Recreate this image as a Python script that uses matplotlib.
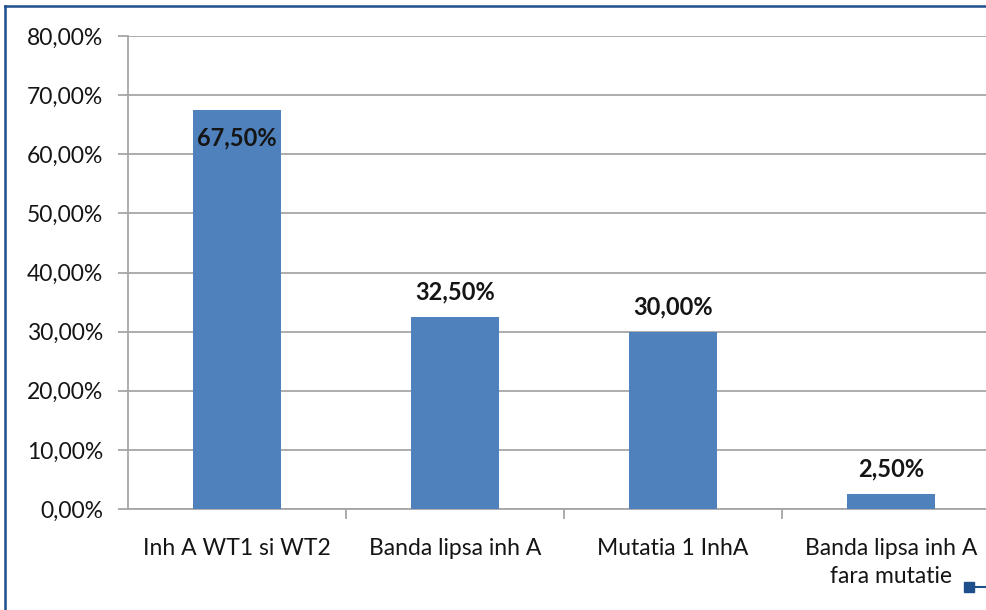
import matplotlib.pyplot as plt
from matplotlib.lines import Line2D
from matplotlib.ticker import FuncFormatter

categories = ['Inh A WT1 si WT2', 'Banda lipsa inh A', 'Mutatia 1 InhA', 'Banda lipsa inh A\nfara mutatie']
values = [67.50, 32.50, 30.00, 2.50]
yticks = [0, 10, 20, 30, 40, 50, 60, 70, 80]

plt.rcParams['font.family'] = ['Lato', 'DejaVu Sans']

W, H = 987, 610
fig = plt.figure(figsize=(W / 100, H / 100), dpi=100)
ax = fig.add_axes([128 / W, 101 / H, 872 / W, 473 / H])

x = list(range(len(categories)))
ax.bar(x, values, width=0.4, color='#4F81BD', zorder=3)

ax.set_xlim(-0.5, len(categories) - 0.5)
ax.set_ylim(0, 80)
ax.set_yticks(yticks)
ax.yaxis.set_major_formatter(FuncFormatter(lambda v, p: f'{v:.2f}%'.replace('.', ',')))
ax.grid(axis='y', color='#A6A6A6', linewidth=1.3, zorder=0)

ax.set_xticks(x)
ax.set_xticklabels(categories, fontsize=16.5, color='#151515', linespacing=1.4)
ax.set_xticks([i + 0.5 for i in x[:-1]], minor=True)
ax.tick_params(axis='x', which='major', length=0, pad=21)
ax.tick_params(axis='x', which='minor', length=7, color='#A6A6A6', width=1.3)
ax.tick_params(axis='y', length=7, color='#A6A6A6', width=1.3, pad=11,
               labelsize=16.5, labelcolor='#151515')
for lab in ax.get_xticklabels():
    lab.set_verticalalignment('top')

for s in ['top', 'right']:
    ax.spines[s].set_visible(False)
for s in ['left', 'bottom']:
    ax.spines[s].set_color('#A6A6A6')
    ax.spines[s].set_linewidth(1.3)

for i, v in enumerate(values):
    txt = f'{v:.2f}%'.replace('.', ',')
    off = -28 if i == 0 else 25
    ax.annotate(txt, (i, v), xytext=(0, off), textcoords='offset pixels',
                ha='center', va='center', fontsize=17, fontweight='bold', color='#151515', zorder=4)

# page frame decoration
frame = '#1F4E8C'
fig.add_artist(Line2D([5 / W, 1], [1 - 6 / H, 1 - 6 / H], color=frame, linewidth=1.8))
fig.add_artist(Line2D([5 / W, 5 / W], [0, 1 - 6 / H], color=frame, linewidth=1.8))
fig.add_artist(Line2D([969 / W, 1], [1 - 587 / H, 1 - 587 / H], color=frame, linewidth=1.5))
fig.add_artist(Line2D([969 / W], [1 - 587 / H], marker='s', markersize=7, color=frame))

fig.savefig('out.png', dpi=100)
